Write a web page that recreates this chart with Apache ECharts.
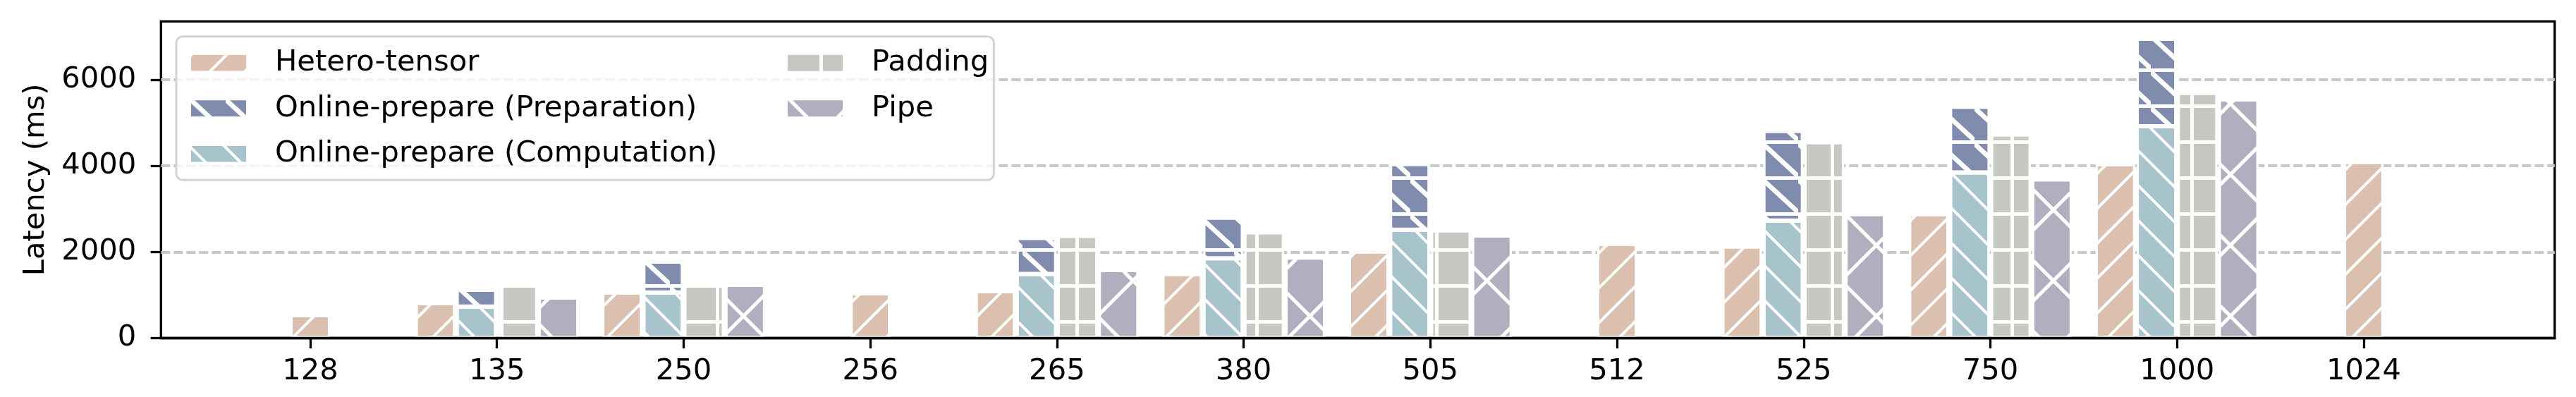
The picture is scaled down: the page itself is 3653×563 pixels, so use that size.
<!DOCTYPE html>
<html><head><meta charset="utf-8">
<script src="https://cdn.jsdelivr.net/npm/echarts@6/dist/echarts.min.js"></script>
<style>html,body{margin:0;padding:0;background:#fff}#c{width:3653px;height:563px}</style>
</head><body><div id="c"></div>
<script>
const categories = ['128','135','250','256','265','380','505','512','525','750','1000','1024'];
const heteroGrouped = [null,814,1061,null,1090,1490,2012,null,2130,2876,4040,null];
const heteroSingle = [532,null,null,1043,null,null,null,2189,null,null,null,4088];
const onlineComputation = [null,732,1061,null,1490,1855,2518,null,2730,3847,4920,null];
const onlinePreparation = [null,388,717,null,835,939,1522,null,2081,1522,2029,null];
const paddingVals = [null,1237,1237,null,2372,2454,2500,null,4546,4728,5693,null];
const pipeVals = [null,943,1237,null,1578,1871,2383,null,2876,3682,5541,null];
const yMin = 0, yMax = 8000, yStep = 2000;

const FONT = 'DejaVu Sans';
const FS = 41.7;
const C = {hetero:'#DBC0B0', prep:'#7F8CAD', comp:'#A7C3CC', pad:'#C5C9C2', pipe:'#B2AEC0'};

const stripe = (rot) => ({symbol:'rect', color:'#ffffff', dashArrayX:[1,0], dashArrayY:[4,31], rotation:rot});
const heteroStyle = {color:C.hetero, borderColor:'#fff', borderWidth:3, decal:stripe(-Math.PI/4)};
const compStyle = {color:C.comp, borderColor:'#fff', borderWidth:3, decal:stripe(Math.PI/4)};
const prepStyle = {color:'#ffffff', borderColor:'#fff', borderWidth:3, decal:{
  symbol:'path://M0,5 L0,50 L45,50 Z M5,0 L50,0 L50,45 Z', color:C.prep,
  dashArrayX:[50,0], dashArrayY:[46,5], symbolKeepAspect:false}};
const padStyle = {color:'#ffffff', borderColor:'#fff', borderWidth:3, decal:{
  symbol:'rect', color:C.pad, dashArrayX:[46,5], dashArrayY:[46,5], symbolKeepAspect:false}};
const pipeStyle = {color:'#ffffff', borderColor:'#fff', borderWidth:3, decal:{
  symbol:'rect', color:C.pipe, dashArrayX:[66,5], dashArrayY:[66,5], rotation:Math.PI/4, symbolKeepAspect:false}};

// plot frame: 228.3..3622.8 x, 30.3..479.5 y ; 0 at 479.5, 61.08 px per 1000
const G_BOTTOM = 83.5;
const G_TOP_SCALE = 479.5 - 8000 * 0.06108; // top of an 8000-high scale (above canvas)
const BW = 56, GAP = '4%';
const chart = echarts.init(document.getElementById('c'), null, {renderer:'canvas'});
const legendText = {fontFamily:FONT, fontSize:FS, color:'#000', lineHeight:42, padding:[0,0,0,35]};
chart.setOption({
  animation:false,
  backgroundColor:'#fff',
  textStyle:{fontFamily:FONT},
  grid:[
    {left:228.3, right:30.2, top:30.3, bottom:G_BOTTOM, show:true, borderColor:'#000', borderWidth:3.3, backgroundColor:'transparent', outerBoundsMode:'none', containLabel:false},
    {left:228.3, right:30.2, top:G_TOP_SCALE, bottom:G_BOTTOM, outerBoundsMode:'none', containLabel:false},
    {left:307.64, right:168.7, top:G_TOP_SCALE, bottom:G_BOTTOM, outerBoundsMode:'none', containLabel:false}
  ],
  legend:[
    {data:['Hetero-tensor','Online-prepare (Preparation)','Online-prepare (Computation)'],
     orient:'vertical', left:250, top:51.7, itemWidth:80, itemHeight:25, itemGap:22.5, icon:'rect',
     padding:[16.5,392,16,19], borderColor:'#d3d3d3', borderWidth:3, borderRadius:9,
     backgroundColor:'rgba(255,255,255,0.8)', textStyle:legendText, selectedMode:false},
    {data:['Padding','Pipe'],
     orient:'vertical', left:1115, top:68.2, itemWidth:80, itemHeight:25, itemGap:22.5, icon:'rect',
     padding:0, textStyle:legendText, selectedMode:false}
  ],
  xAxis:[
    {gridIndex:0, type:'value', min:0, max:1, z:5,
     axisLine:{show:true, lineStyle:{color:'#000', width:3.3}}, axisTick:{show:false}, axisLabel:{show:false}, splitLine:{show:false}},
    {gridIndex:2, type:'category', data:categories,
     axisLine:{show:false}, axisTick:{show:true, alignWithLabel:true, length:14.6, lineStyle:{color:'#000', width:3.3}},
     axisLabel:{fontFamily:FONT, fontSize:FS, color:'#000', margin:27}},
    {gridIndex:2, type:'category', data:categories, show:false},
    {gridIndex:1, type:'value', min:0, max:1, show:false}
  ],
  yAxis:[
    {gridIndex:0, type:'value', min:0, max:1,
     name:'Latency (ms)', nameLocation:'middle', nameGap:156,
     nameTextStyle:{fontFamily:FONT, fontSize:FS, color:'#000'},
     axisLine:{show:false}, axisTick:{show:false}, axisLabel:{show:false}, splitLine:{show:false}},
    {gridIndex:1, type:'value', min:yMin, max:yMax, interval:yStep,
     axisLine:{show:false},
     axisTick:{show:true, length:14.6, lineStyle:{color:'#000', width:3.3}},
     axisLabel:{fontFamily:FONT, fontSize:FS, color:'#000', margin:35, showMaxLabel:false, formatter:(v)=>String(v)},
     splitLine:{show:true, showMinLine:false, showMaxLine:false, lineStyle:{color:'#c8c8c8', width:4, type:[13,5]}}},
    {gridIndex:2, type:'value', min:yMin, max:yMax, show:false}
  ],
  series:[
    {name:'Hetero-tensor', type:'bar', xAxisIndex:1, yAxisIndex:2, data:heteroGrouped, barWidth:BW, barGap:GAP, itemStyle:heteroStyle},
    {name:'Online-prepare (Computation)', type:'bar', xAxisIndex:1, yAxisIndex:2, stack:'online', data:onlineComputation, barWidth:BW, barGap:GAP, itemStyle:compStyle},
    {name:'Online-prepare (Preparation)', type:'bar', xAxisIndex:1, yAxisIndex:2, stack:'online', data:onlinePreparation, barWidth:BW, barGap:GAP, itemStyle:prepStyle},
    {name:'Padding', type:'bar', xAxisIndex:1, yAxisIndex:2, data:paddingVals, barWidth:BW, barGap:GAP, itemStyle:padStyle},
    {name:'Pipe', type:'bar', xAxisIndex:1, yAxisIndex:2, data:pipeVals, barWidth:BW, barGap:GAP, itemStyle:pipeStyle},
    {name:'Hetero-tensor', type:'bar', xAxisIndex:2, yAxisIndex:2, data:heteroSingle, barWidth:BW, itemStyle:heteroStyle}
  ]
});
</script></body></html>
